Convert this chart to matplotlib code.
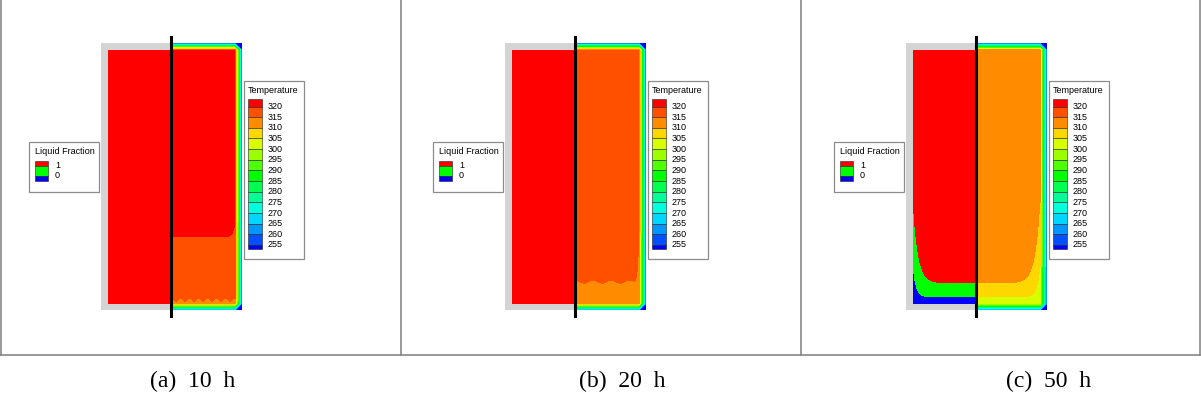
import numpy as np
import matplotlib
matplotlib.use('Agg')
import matplotlib.pyplot as plt
from matplotlib.colors import ListedColormap, BoundaryNorm
from matplotlib.patches import Rectangle

# =============================================================================
# DADOS
# =============================================================================

rotulos_painel = ['(a)  10  h', '(b)  20  h', '(c)  50  h']

# legenda de temperatura (K), de cima para baixo
temp_niveis = [320, 315, 310, 305, 300, 295, 290, 285, 280, 275, 270, 265, 260, 255]
# cores: >320, 315-320, ..., 255-260, <255
temp_cores = ['#ff0000', '#ff5000', '#ff8c00', '#ffd700', '#d7ff00', '#9bff00',
              '#50ff00', '#00ff00', '#00ff50', '#00ff96', '#00ffdc', '#00d7ff',
              '#0096ff', '#0050ff', '#0000ff']

# legenda da fração líquida
lf_rotulos = ['1', '0']
lf_cores = ['#ff0000', '#00ff00', '#0000ff']   # líquido, pastoso, sólido

# faixa de mudança de fase (K)
t_solidus = 305
t_liquidus = 310

# geometria do tanque (mm) e parede externa
raio = 70.5
altura = 267.0
parede = 6.5
t_parede = 262.0

# temperatura do núcleo em cada instante
t_nucleo = [321, 317, 312]

# camadas estratificadas: altura da interface, queda (K), subida junto à parede,
# alcance da subida, amplitude e comprimento da ondulação
camadas = [
    [(73, 3.0, 14, 2.0, 0.0, 1), (10, 6.0, 0, 1.0, 1.5, 9)],
    [(28, 5.0, 50, 1.2, 1.5, 18)],
    [(27, 4.5, 80, 5.0, 0.0, 1), (13, 5.0, 30, 3.0, 0.0, 1)],
]

# =============================================================================
# LAYOUT (pixels da figura)
# =============================================================================

W, H = 1201, 407
centros = [171, 575, 976]
topo_dom, base_dom = 43, 310
centros_legenda = [193, 622, 1049]
passo = 0.5


def campo_temperatura(nucleo, camadas_painel):
    r = np.arange(0, raio, passo) + passo / 2
    z = np.arange(0, altura, passo) + passo / 2
    R, Z = np.meshgrid(r, z)
    interno = raio - parede
    dist = np.clip(interno - R, 0, None)

    T = np.full(R.shape, float(nucleo))
    for z0, queda, subida, alcance, amp, onda in camadas_painel:
        z_int = z0 + subida * np.exp(-dist / alcance)
        if amp:
            z_int = z_int + amp * np.cos(2 * np.pi * R / onda)
        T = T - queda * (Z < z_int)

    # perfil linear na parede (topo, lateral, fundo)
    def g(d):
        return np.clip(1 - d / parede, 0, None)
    S = g(raio - R) + g(Z) + g(altura - Z)
    T = T - (T - t_parede) * S

    pcm = (R < interno) & (Z > parede) & (Z < altura - parede)
    return T, pcm


def legenda_temperatura(ax, x0, y0):
    ax.add_patch(Rectangle((x0, y0), 60, 178, fc='white', ec='#8c8c8c', lw=0.9))
    ax.text(x0 + 4, y0 + 9.5, 'Temperature', fontsize=6.5, va='center', ha='left',
            family='Liberation Sans')
    topo = y0 + 18
    ext_sup, unidade, ext_inf = 7.5, 10.65, 4.0
    bordas = [topo] + [topo + ext_sup + i * unidade for i in range(len(temp_niveis))]
    bordas.append(bordas[-1] + ext_inf)
    for i, cor in enumerate(temp_cores):
        ax.add_patch(Rectangle((x0 + 4, bordas[i]), 14, bordas[i + 1] - bordas[i],
                               fc=cor, ec='#222222', lw=0.4))
    for i, nivel in enumerate(temp_niveis):
        ax.text(x0 + 24, bordas[i + 1], str(nivel), fontsize=6.5, va='center',
                ha='left', family='Liberation Sans')


def legenda_fracao(ax, x0, y0):
    ax.add_patch(Rectangle((x0, y0), 70, 50, fc='white', ec='#8c8c8c', lw=0.9))
    ax.text(x0 + 6, y0 + 9.5, 'Liquid Fraction', fontsize=6.5, va='center', ha='left',
            family='Liberation Sans')
    bordas = [y0 + 18.5, y0 + 23.5, y0 + 34, y0 + 39]
    for i, cor in enumerate(lf_cores):
        ax.add_patch(Rectangle((x0 + 6, bordas[i]), 13, bordas[i + 1] - bordas[i],
                               fc=cor, ec='#222222', lw=0.4))
    for i, rot in enumerate(lf_rotulos):
        ax.text(x0 + 26, bordas[i + 1], rot, fontsize=6.5, va='center', ha='left',
                family='Liberation Sans')


fig = plt.figure(figsize=(W / 100, H / 100), dpi=100)
base = fig.add_axes([0, 0, 1, 1])
base.set_xlim(0, W)
base.set_ylim(H, 0)
base.axis('off')

# molduras dos painéis
cor_moldura = '#7f7f7f'
for xv in [0.6, 401, 800.5, 1200.4]:
    base.plot([xv, xv], [0, 355], color=cor_moldura, lw=1.1)
base.plot([0, 1200.4], [355, 355], color=cor_moldura, lw=1.1)

cmap_t = ListedColormap(temp_cores[::-1])
cmap_t.set_bad((0, 0, 0, 0))
norm_t = BoundaryNorm([100] + temp_niveis[::-1] + [400], cmap_t.N)
cmap_f = ListedColormap(lf_cores[::-1])
cmap_f.set_bad((0, 0, 0, 0))
norm_f = BoundaryNorm([-0.5, 0.001, 0.999, 1.5], cmap_f.N)

for k, cx in enumerate(centros):
    T, pcm = campo_temperatura(t_nucleo[k], camadas[k])
    fracao = np.clip((T - t_solidus) / (t_liquidus - t_solidus), 0, 1)
    fracao = np.ma.masked_where(~pcm, fracao)

    ax = fig.add_axes([(cx - raio) / W, (H - base_dom) / H,
                       2 * raio / W, (base_dom - topo_dom) / H])
    ax.add_patch(Rectangle((-raio, 0), raio, altura, fc='#d4d4d4', ec='none', zorder=0))
    ax.imshow(fracao[:, ::-1], origin='lower', extent=[-raio, 0, 0, altura],
              cmap=cmap_f, norm=norm_f, interpolation='nearest', zorder=1)
    ax.imshow(T, origin='lower', extent=[0, raio, 0, altura],
              cmap=cmap_t, norm=norm_t, interpolation='nearest', zorder=1)
    ax.plot([0, 0], [-6, altura + 6], color='black', lw=2.2, clip_on=False, zorder=3)
    ax.set_xlim(-raio, raio)
    ax.set_ylim(0, altura)
    ax.set_aspect('auto')
    ax.axis('off')

    legenda_temperatura(base, cx + 73, 81)
    legenda_fracao(base, cx - 142, 142)

    base.text(centros_legenda[k], 381, rotulos_painel[k], fontsize=17,
              family='Liberation Serif', ha='center', va='center')

fig.savefig('out.png', dpi=100)
